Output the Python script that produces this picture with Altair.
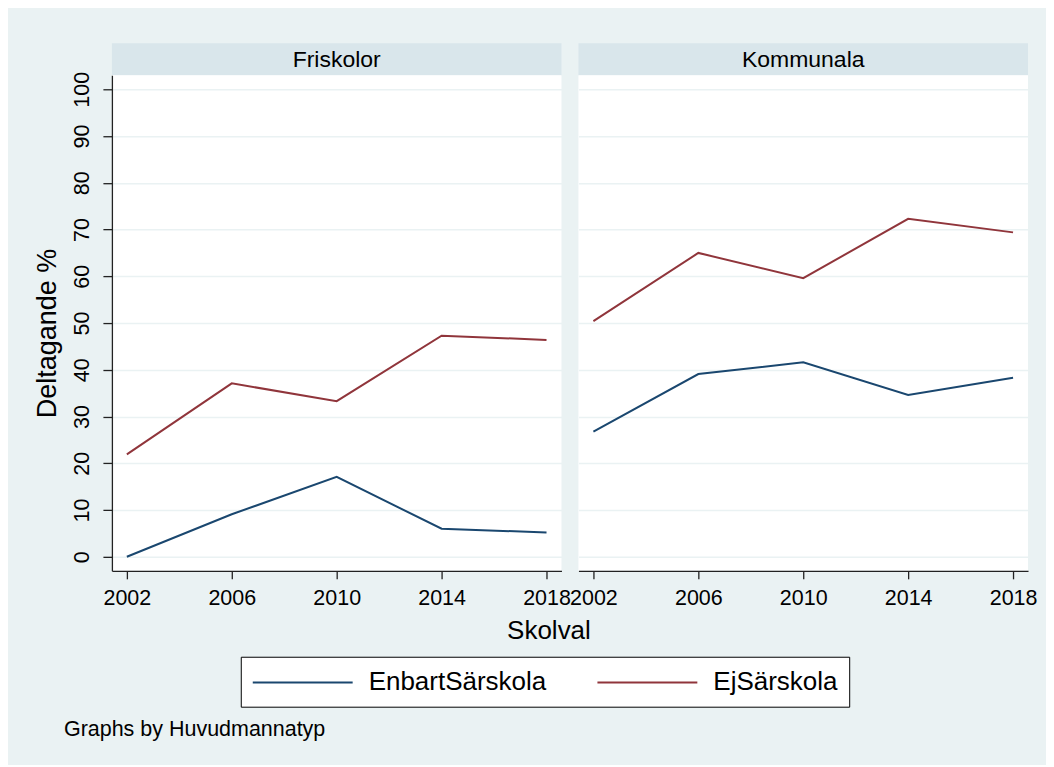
import altair as alt
import pandas as pd

years = [2002, 2006, 2010, 2014, 2018]
panels = ["Friskolor", "Kommunala"]
series = ["EnbartSärskola", "EjSärskola"]

fris_enbart = [0.0, 9.1, 17.1, 6.0, 5.2]
fris_ej = [21.9, 37.1, 33.3, 47.3, 46.4]
komm_enbart = [26.8, 39.1, 41.6, 34.6, 38.3]
komm_ej = [50.4, 65.0, 59.6, 72.3, 69.4]

y_ticks = list(range(0, 101, 10))

values = {
    ("Friskolor", "EnbartSärskola"): fris_enbart,
    ("Friskolor", "EjSärskola"): fris_ej,
    ("Kommunala", "EnbartSärskola"): komm_enbart,
    ("Kommunala", "EjSärskola"): komm_ej,
}
rows = []
for (p, s), vals in values.items():
    for yr, v in zip(years, vals):
        rows.append({"panel": p, "serie": s, "year": yr, "value": v})
df = pd.DataFrame(rows)

FONT = "Liberation Sans"
BG = "#eaf2f3"
STRIP = "#d9e6eb"
COLORS = ["#1a476f", "#90353b"]
AXIS_COL = "#222222"

color = alt.Color(
    "serie:N",
    scale=alt.Scale(domain=series, range=COLORS),
    legend=alt.Legend(
        title=None,
        orient="none",
        direction="horizontal",
        legendX=129,
        legendY=614,
        symbolType="M-1,0H6.407",
        symbolSize=729,
        symbolStrokeWidth=2,
        symbolFillColor="transparent",
        labelFontSize=26,
        labelFont=FONT,
        labelColor="black",
        labelOffset=88,
        labelLimit=400,
        columnPadding=47,
        padding=11,
        fillColor="white",
        strokeColor="black",
    ),
)


def header(name):
    return (
        alt.Chart(pd.DataFrame({"p": [name]}))
        .mark_text(fontSize=23, font=FONT, color="black")
        .encode(text="p:N", x=alt.value(225), y=alt.value(17))
        .properties(width=450, height=32, view=alt.ViewBackground(fill=STRIP, stroke=None))
    )


def plot(name, first):
    if first:
        yaxis = alt.Axis(
            values=y_ticks,
            title="Deltagande %",
            titleFontSize=27,
            titleFontWeight="normal",
            titlePadding=10,
            titleY=258,
            labelAngle=270,
            labelAlign="center",
            labelBaseline="bottom",
            labelPadding=9,
            labelFontSize=21.5,
            tickSize=9,
            grid=True,
        )
        xtitle = dict(title="Skolval", titleX=437, titleAlign="center", titleFontSize=26,
                      titleFontWeight="normal", titlePadding=8)
    else:
        yaxis = alt.Axis(values=y_ticks, labels=False, ticks=False, domain=False, title=None, grid=True)
        xtitle = dict(title=None)
    return (
        alt.Chart(df[df["panel"] == name])
        .mark_line(strokeWidth=2)
        .encode(
            x=alt.X(
                "year:Q",
                scale=alt.Scale(domain=[2001.43, 2018.57], nice=False, zero=False),
                axis=alt.Axis(
                    values=years,
                    format="d",
                    grid=False,
                    labelFlush=False,
                    labelOverlap=False,
                    labelFontSize=21.5,
                    labelPadding=9,
                    tickSize=8,
                    **xtitle,
                ),
            ),
            y=alt.Y("value:Q", scale=alt.Scale(domain=[-3, 103], nice=False, zero=False), axis=yaxis),
            color=color,
        )
        .properties(width=450, height=496, view=alt.ViewBackground(fill="white", stroke=None))
    )


chart = (
    alt.concat(
        header(panels[0]), header(panels[1]),
        plot(panels[0], True), plot(panels[1], False),
        columns=2,
        spacing={"row": 0, "column": 17},
    )
    .properties(
        bounds="flush",
        title=alt.TitleParams("Graphs by Huvudmannatyp", orient="bottom", anchor="start", fontSize=21.5,
                              fontWeight="normal", font=FONT, color="black", offset=12, dx=30),
        padding={"left": 26, "top": 35, "right": 9, "bottom": 24},
    )
    .resolve_scale(color="shared")
    .configure(background=BG, font=FONT)
    .configure_axis(
        domainColor=AXIS_COL,
        domainWidth=1.3,
        tickColor=AXIS_COL,
        tickWidth=1.3,
        gridColor=BG,
        gridWidth=1.5,
        labelColor="black",
        titleColor="black",
        labelFont=FONT,
        titleFont=FONT,
    )
)

chart.save("out.html", embed_options={"renderer": "svg", "actions": False})
